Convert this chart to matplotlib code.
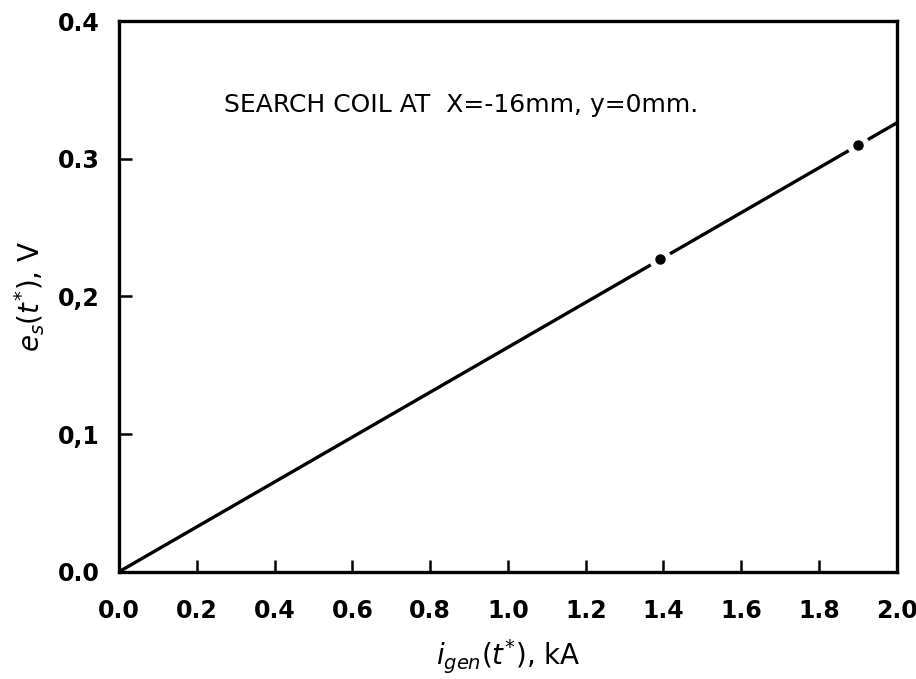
import numpy as np
from matplotlib import pyplot as plt

# straight calibration line
i_gen = [0.0, 2.0]
e_s = [0.0, 0.326]

# the two marked points on the line
pt_i = [1.39, 1.90]
pt_e = [0.227, 0.310]

xticks = [0.0, 0.2, 0.4, 0.6, 0.8, 1.0, 1.2, 1.4, 1.6, 1.8, 2.0]
xticklabels = ['0.0', '0.2', '0.4', '0.6', '0.8', '1.0', '1.2', '1.4', '1.6', '1.8', '2.0']
yticks = [0.0, 0.1, 0.2, 0.3, 0.4]
yticklabels = ['0.0', '0,1', '0,2', '0.3', '0.4']

fig = plt.figure(figsize=(9.16, 6.79), dpi=100)
ax = fig.add_axes([0.130, 0.158, 0.849, 0.811])

ax.plot(i_gen, e_s, color='black', lw=2.4, solid_capstyle='round')
# white halo to break the line around each point, then the dot itself
ax.plot(pt_i, pt_e, 'o', color='white', ms=15, linestyle='none')
ax.plot(pt_i, pt_e, 'o', color='black', ms=6.5, linestyle='none')

ax.set_xlim(0, 2.0)
ax.set_ylim(0, 0.4)
ax.set_xticks(xticks)
ax.set_xticklabels(xticklabels, fontsize=17, fontweight='bold')
ax.set_yticks(yticks)
ax.set_yticklabels(yticklabels, fontsize=17, fontweight='bold')
ax.tick_params(direction='in', length=9, width=1.8, pad=14)
ax.tick_params(axis='x', pad=20)
for s in ax.spines.values():
    s.set_linewidth(2.4)

ax.set_xlabel(r'$i_{gen}(t^{*})$, kA', fontsize=20, labelpad=10)
ax.set_ylabel(r'$e_{s}(t^{*})$, V', fontsize=20, labelpad=8)

ax.text(0.27, 0.339, 'SEARCH COIL AT  X=-16mm, y=0mm.', fontsize=18,
        va='center', ha='left')

plt.savefig('out.png', dpi=100)
